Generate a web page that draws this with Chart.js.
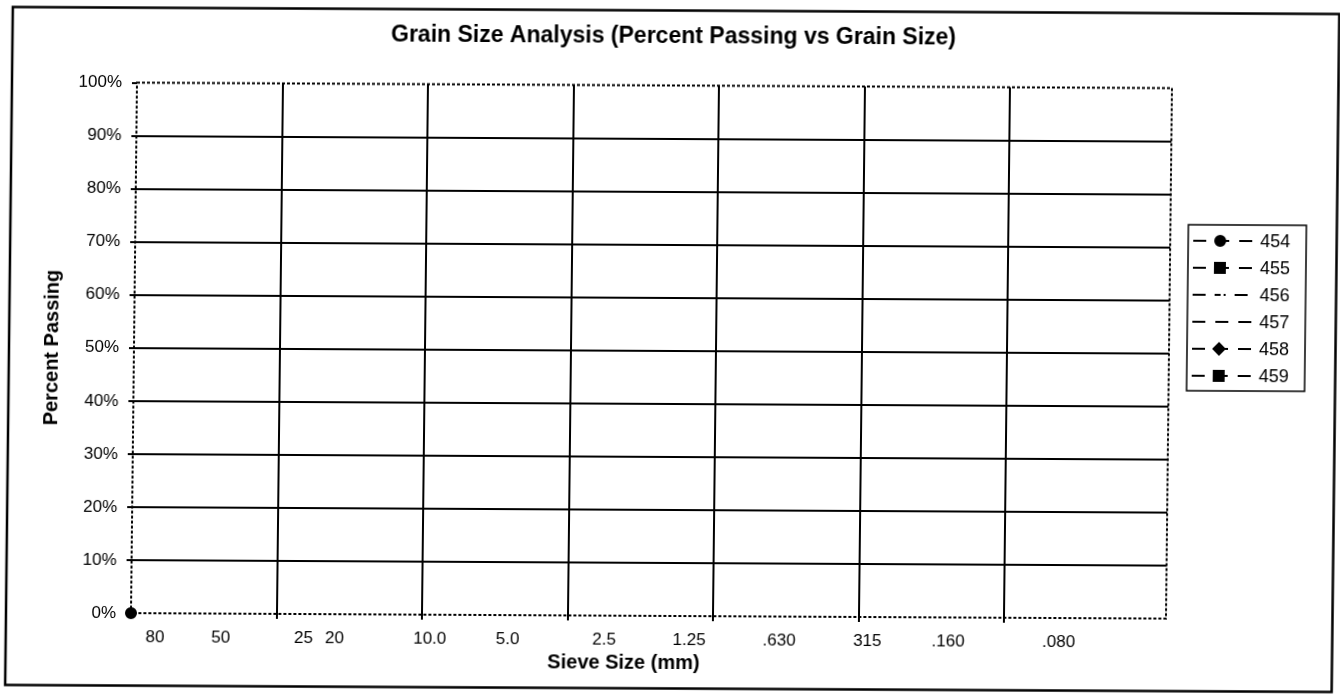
<!DOCTYPE html>
<html>
<head>
<meta charset="utf-8">
<title>Grain Size Analysis</title>
<script src="https://cdn.jsdelivr.net/npm/chart.js@4.4.1/dist/chart.umd.min.js"></script>
<style>
    html, body { margin: 0; padding: 0; background: #fff; overflow: hidden; }
    #khung {
        width: 1340px; height: 698px;
        transform-origin: 670px 349px;
        transform: matrix(1, 0.0053, -0.0113, 1, 0, 0);
    }
</style>
</head>
<body>
<div id="khung">
    <canvas id="grainChart" width="1340" height="698"></canvas>
</div>
<script>
    // Cỡ sàng (mm) và vị trí chữ trên trục hoành
    const sieveLabels = ['80', '50', '25', '20', '10.0', '5.0', '2.5', '1.25', '.630', '315', '.160', '.080'];
    const sievePos = [0.167, 0.618, 1.186, 1.40, 2.054, 2.589, 3.252, 3.836, 4.454, 5.06, 5.615, 6.374];
    // Đường lưới dọc của trục hoành
    const gridPos = [0, 1, 2, 3, 4, 5, 6];
    const xMax = 7.11;
    // Mẫu thí nghiệm
    const sampleNames = ['454', '455', '456', '457', '458', '459'];
    // % lọt sàng của từng mẫu (chỉ mẫu 454 có một điểm)
    const sampleX = [[0], [], [], [], [], []];
    const sampleY = [[0], [], [], [], [], []];

    const markers = [
        { style: 'circle', r: 5, dash: [13, 10] },
        { style: 'rect', r: 7, dash: [13, 10] },
        { style: false, r: 0, dash: [13, 9, 6, 3, 2, 9] },
        { style: 'line', r: 4, dash: [13, 10] },
        { style: 'rectRot', r: 5.5, dash: [13, 10] },
        { style: 'rect', r: 7, dash: [13, 10] }
    ];

    const fontChu = '"Liberation Sans", Arial, sans-serif';
    Chart.defaults.font.family = fontChu;
    Chart.defaults.color = '#000';

    const datasets = sampleNames.map(function (ten, i) {
        return {
            label: ten,
            data: sampleX[i].map(function (x, j) { return { x: x, y: sampleY[i][j] }; }),
            showLine: true,
            borderColor: '#000',
            backgroundColor: '#000',
            borderWidth: 2,
            borderDash: markers[i].dash,
            pointStyle: markers[i].style,
            pointRadius: markers[i].r,
            clip: false
        };
    });

    const trongSuot = 'rgba(0,0,0,0)';

    // Khung ngoài, viền vùng vẽ, tiêu đề trục hoành và chú thích
    const khungPlugin = {
        id: 'khung',
        beforeDraw: function (chart) {
            const ctx = chart.ctx;
            ctx.save();
            ctx.fillStyle = '#fff';
            ctx.fillRect(0, 0, chart.width, chart.height);
            ctx.restore();
        },
        afterDraw: function (chart) {
            const ctx = chart.ctx;
            const a = chart.chartArea;
            ctx.save();
            // viền chấm quanh vùng vẽ
            ctx.strokeStyle = '#000';
            ctx.lineWidth = 2;
            ctx.setLineDash([3, 2]);
            ctx.strokeRect(a.left, a.top, a.right - a.left, a.bottom - a.top);
            ctx.setLineDash([]);

            // khung ngoài
            ctx.lineWidth = 2.5;
            ctx.strokeRect(9, 10.5, 1326.5, 678);

            // tiêu đề trục hoành
            ctx.fillStyle = '#000';
            ctx.font = 'bold 20px ' + fontChu;
            ctx.textAlign = 'center';
            ctx.textBaseline = 'middle';
            ctx.fillText('Sieve Size (mm)', 627, 663);

            // chú thích
            ctx.lineWidth = 1.5;
            ctx.strokeRect(1187, 222, 118, 166);
            ctx.font = '18px ' + fontChu;
            ctx.textAlign = 'left';
            chart.data.datasets.forEach(function (ds, i) {
                const y = 238 + 27 * i;
                ctx.lineWidth = 2;
                ctx.setLineDash(ds.borderDash);
                ctx.beginPath();
                ctx.moveTo(1192, y);
                ctx.lineTo(1251, y);
                ctx.stroke();
                ctx.setLineDash([]);
                ctx.fillStyle = '#000';
                ctx.strokeStyle = '#000';
                if (ds.pointStyle) {
                    Chart.helpers.drawPoint(ctx, {
                        pointStyle: ds.pointStyle,
                        radius: ds.pointRadius,
                        rotation: 0,
                        borderWidth: 2.5
                    }, 1219, y);
                }
                ctx.fillText(ds.label, 1259, y + 1);
            });
            ctx.restore();
        }
    };

    const ctx = document.getElementById('grainChart').getContext('2d');
    const grainChart = new Chart(ctx, {
        type: 'scatter',
        data: { datasets: datasets },
        options: {
            responsive: false,
            animation: false,
            devicePixelRatio: 1,
            layout: { padding: 0 },
            plugins: {
                legend: { display: false },
                tooltip: { enabled: false },
                title: {
                    display: true,
                    text: 'Grain Size Analysis (Percent Passing vs Grain Size)',
                    font: { size: 23, weight: 'bold' },
                    color: '#000',
                    padding: { top: 23, bottom: 35 }
                }
            },
            scales: {
                x: {
                    type: 'linear',
                    position: 'bottom',
                    min: 0,
                    max: xMax,
                    afterBuildTicks: function (scale) {
                        const ds = gridPos.concat(sievePos).sort(function (a, b) { return a - b; });
                        scale.ticks = ds.map(function (v) { return { value: v }; });
                    },
                    afterFit: function (scale) { scale.height = 82; },
                    ticks: {
                        autoSkip: false,
                        maxRotation: 0,
                        padding: 9,
                        font: { size: 17 },
                        color: '#000',
                        callback: function (value) {
                            const i = sievePos.indexOf(value);
                            return i >= 0 ? sieveLabels[i] : '';
                        }
                    },
                    grid: {
                        lineWidth: 2,
                        tickLength: 5,
                        color: function (c) {
                            const v = c.tick ? c.tick.value : -1;
                            return (gridPos.indexOf(v) > 0) ? '#000' : trongSuot;
                        },
                        tickColor: function (c) {
                            const v = c.tick ? c.tick.value : -1;
                            return (gridPos.indexOf(v) >= 0) ? '#000' : trongSuot;
                        }
                    },
                    border: { display: false }
                },
                y: {
                    min: 0,
                    max: 100,
                    afterFit: function (scale) { scale.width = 134; },
                    ticks: {
                        stepSize: 10,
                        padding: 10,
                        font: { size: 17 },
                        color: '#000',
                        callback: function (v) { return v + '%'; }
                    },
                    grid: {
                        lineWidth: 2,
                        tickLength: 5,
                        color: function (c) {
                            const v = c.tick ? c.tick.value : 0;
                            return (v === 0 || v === 100) ? trongSuot : '#000';
                        },
                        tickColor: '#000'
                    },
                    border: { display: false },
                    title: {
                        display: true,
                        text: 'Percent Passing',
                        font: { size: 20, weight: 'bold' },
                        color: '#000',
                        padding: { top: 40, bottom: 0 }
                    }
                },
                // chừa chỗ bên phải cho bảng chú thích
                chuThich: {
                    type: 'linear',
                    position: 'right',
                    afterFit: function (scale) { scale.width = 171; },
                    ticks: { display: false },
                    grid: { display: false },
                    border: { display: false }
                }
            }
        },
        plugins: [khungPlugin]
    });
</script>
</body>
</html>
